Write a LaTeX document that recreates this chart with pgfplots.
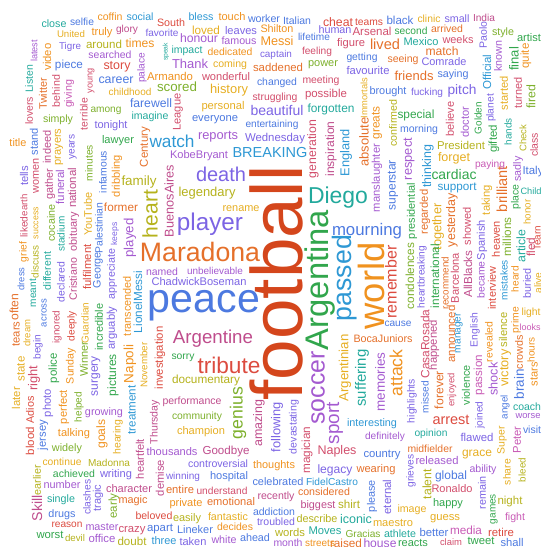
\documentclass[border=0pt]{standalone}
\usepackage{fontspec}
\setmainfont{Liberation Sans}
\usepackage{graphicx}
\usepackage{pgfplots}
\pgfplotsset{compat=1.18}
\usepackage{pgfplotstable}

\definecolor{cRust}{HTML}{D4461C}
\definecolor{cRed}{HTML}{DC4B3F}
\definecolor{cRose}{HTML}{D24E6C}
\definecolor{cMag}{HTML}{BF4C8C}
\definecolor{cPink}{HTML}{C85AB5}
\definecolor{cPurp}{HTML}{A45AD0}
\definecolor{cViol}{HTML}{7C64E4}
\definecolor{cBlue}{HTML}{4C79E0}
\definecolor{cSky}{HTML}{2E98D4}
\definecolor{cTeal}{HTML}{22A99C}
\definecolor{cGreen}{HTML}{31A64C}
\definecolor{cLime}{HTML}{7DB02C}
\definecolor{cOlive}{HTML}{B5B21C}
\definecolor{cGold}{HTML}{E6AE22}
\definecolor{cOrange}{HTML}{F0921F}
\definecolor{cOrRed}{HTML}{E5702A}

% x y = centre in pixels (y down), L = length of the word, r = rotation
\pgfplotstableread{
x y L r c w
276 283 235 90 cRust football
204 306 112 0 cBlue peace
371 286 87 90 cOrange world
320 280 140 90 cGreen Argentina
200 252 120 0 cOrRed Maradona
210 224 66 0 cViol player
318 388 73 90 cPurp soccer
345 278 86 90 cSky passed
338 198 60 0 cTeal Diego
221 174 50 0 cViol death
229 365 63 0 cRed tribute
213 339 80 0 cMag Argentine
150 214 48 90 cOlive heart
172 141 45 0 cSky watch
270 153 75 0 cSky BREAKING
367 231 70 0 cBlue mourning
391 282 73 90 cRed remember
396 373 47 90 cOrange attack
238 413 52 90 cLime genius
335 423 42 90 cPurp sport
54 24 25 0 cTeal close
82 22 24 0 cBlue selfie
110 17 25 0 cOrange coffin
140 17 27 0 cSky social
171 23 28 0 cRed South
71 34 28 0 cGold United
102 33 21 0 cOrange truly
127 30 22 0 cMag glory
162 33 33 0 cViol favorite
70 47 22 0 cViol Tigre
104 44 36 0 cOlive around
140 43 29 0 cOrange times
166 52 18 90 cTeal speak
187 51 31 0 cTeal impact
34 51 22 90 cPurp latest
47 57 27 90 cOrange video
110 55 43 0 cPurp searched
69 65 28 0 cBlue piece
117 67 27 0 cRed story
142 68 30 90 cPurp palace
170 76 46 0 cOrange Armando
29 79 28 90 cTeal Listen
91 81 25 90 cRose young
116 80 35 0 cBlue career
177 87 40 0 cLime scored
43 94 32 90 cOrRed Twitter
56 91 32 90 cRose behind
69 94 28 90 cPink giving
130 92 43 0 cGold childhood
29 111 28 90 cRose lovers
151 103 42 0 cBlue farewell
178 112 37 90 cRose League
84 114 32 90 cRose terrible
106 111 31 0 cLime among
150 117 37 0 cTeal imagine
58 120 30 0 cLime simply
111 126 33 0 cViol tonight
18 143 17 0 cOrange title
34 142 27 90 cBlue stand
47 147 33 90 cMag indeed
59 147 37 90 cGold prayers
118 141 32 0 cGreen lawyer
145 147 40 90 cOrRed Century
199 156 58 0 cPurp KobeBryant
24 176 20 90 cViol tells
36 176 35 90 cRose women
50 184 31 90 cMag gather
60 187 35 90 cPurp funeral
73 147 25 90 cViol years
72 188 40 90 cMag national
89 163 36 90 cLime minutes
103 172 42 90 cBlue infamous
117 176 42 90 cOrange dribbling
139 182 35 0 cOlive family
169 201 72 90 cMag BuenosAires
207 193 57 0 cOlive legendary
121 207 34 0 cOrRed former
24 205 22 90 cRose earth
24 227 21 90 cRose liked
36 223 32 90 cGold success
51 223 37 90 cLime cocaine
61 234 35 90 cTeal stadium
74 232 39 90 cMag obituary
88 214 43 90 cGold YouTube
99 228 51 90 cBlue Palestinian
115 234 23 90 cViol keeps
130 238 39 90 cPurp played
24 252 20 90 cOrange grief
21 279 23 90 cBlue dress
35 262 33 90 cOlive discuss
33 293 28 90 cTeal meant
14 307 27 90 cOrRed often
16 334 25 90 cOrRed tears
27 333 27 90 cGold dream
38 347 25 90 cViol begin
44 313 28 90 cBlue across
47 271 38 90 cTeal different
61 282 40 90 cViol declared
73 279 42 90 cMag Cristiano
87 267 45 90 cRed fulfilment
98 270 36 90 cBlue George
112 274 50 90 cViol appreciate
112 328 43 90 cViol arguably
99 327 47 90 cGreen incredible
85 323 41 90 cGold Guardian
84 359 35 90 cLime Winner
57 327 33 90 cRose ignored
72 326 30 90 cRed deeply
71 366 36 90 cOrange Sunday
54 368 30 90 cGreen police
96 376 40 90 cViol surgery
113 375 42 90 cGreen pictures
127 306 60 90 cOrange transcended
138 302 62 90 cSky LionelMessi
130 364 38 90 cOrange Napoli
144 365 45 90 cGold November
160 358 63 90 cRed investigation
162 272 32 0 cPurp named
215 271 56 0 cPurp unbelievable
199 282 95 0 cViol ChadwickBoseman
241 209 37 0 cGold rename
398 324 27 0 cBlue cause
383 339 59 0 cOrRed BocaJuniors
345 368 67 90 cGold Argentinian
362 378 57 90 cTeal suffering
380 382 59 90 cPurp memories
425 344 69 90 cRose CasaRosada
434 345 50 90 cMag happened
451 334 57 90 cOrRed announced
459 333 40 90 cSky manager
475 330 34 90 cViol English
489 342 40 90 cOrange revealed
503 330 35 90 cOlive silence
516 320 26 90 cOrange prime
531 313 19 0 cGold light
530 327 21 0 cPink looks
531 350 25 90 cOrange hours
519 352 34 90 cOrRed crowds
505 368 37 90 cGold victory
479 375 40 90 cPink passion
493 379 33 90 cPurp shock
519 384 30 90 cBlue brain
534 374 24 90 cOrange stars
412 401 44 90 cViol highlights
425 397 32 90 cBlue missed
439 390 38 90 cOrRed forever
452 390 33 90 cRose enjoyed
466 385 40 90 cGreen violence
480 415 27 90 cViol joined
505 407 24 90 cBlue angel
527 407 28 0 cTeal coach
528 416 25 0 cPurp worse
532 430 18 0 cBlue visit
517 440 27 90 cPink Peter
502 440 28 90 cGold Super
451 420 37 0 cRed arrest
372 424 50 0 cSky interesting
431 434 33 0 cTeal opinion
385 437 40 0 cPurp definitely
477 437 33 0 cViol flawed
382 455 37 0 cBlue country
430 449 45 0 cOrRed midfielder
477 455 30 0 cGold grace
411 471 33 90 cViol grieves
437 460 43 0 cPurp released
376 470 39 0 cOrRed wearing
483 470 27 0 cPurp ability
507 472 26 90 cGold share
522 470 24 90 cOlive bleed
427 484 30 90 cOlive talent
451 476 32 0 cBlue global
372 496 32 90 cBlue please
387 497 35 90 cViol eternal
452 489 41 0 cRose Ronaldo
482 493 33 90 cViol remain
494 509 30 90 cGreen games
510 502 25 0 cOlive night
412 510 29 0 cGold image
448 504 30 0 cGreen happy
445 519 30 0 cGold guess
515 518 20 0 cPink fight
356 519 32 0 cTeal iconic
393 523 40 0 cGold maestro
363 534 35 0 cLime Gracias
400 534 32 0 cTeal athlete
434 532 29 0 cBlue better
466 530 32 0 cPink media
501 532 26 0 cRed retire
346 543 32 0 cOrRed raised
380 543 33 0 cPurp house
413 543 30 0 cGreen reacts
451 542 22 0 cRose claim
481 541 27 0 cGreen tweet
512 542 23 0 cBlue shall
183 358 23 0 cGreen sorry
206 380 68 0 cOlive documentary
192 402 59 0 cMag performance
197 417 50 0 cLime community
201 432 48 0 cGold champion
259 423 47 90 cMag amazing
277 427 50 90 cViol following
294 427 54 90 cViol devastating
307 450 47 90 cRose magician
337 451 39 0 cRose Naples
335 470 35 0 cViol legacy
274 466 42 0 cOrange thoughts
226 451 47 0 cMag Goodbye
172 452 51 0 cPurp thousands
218 464 60 0 cViol controversial
183 477 34 0 cViol winning
229 477 38 0 cBlue hospital
278 482 51 0 cBlue celebrated
332 482 52 0 cSky FidelCastro
180 489 28 0 cOrRed entire
222 491 51 0 cRose understand
324 492 52 0 cOrRed considered
276 497 37 0 cMag recently
186 504 33 0 cOrange private
231 502 48 0 cOrRed emotional
318 506 35 0 cMag biggest
349 504 22 0 cOlive shirt
274 512 42 0 cBlue addiction
187 519 28 0 cOlive easily
228 517 40 0 cGold fantastic
276 522 38 0 cViol troubled
317 519 41 0 cOlive describe
195 530 36 0 cBlue Lineker
235 527 36 0 cOrange decides
290 532 30 0 cOlive words
325 531 33 0 cTeal Moves
193 542 27 0 cViol taken
224 540 25 0 cPurp white
255 538 30 0 cBlue ahead
288 543 29 0 cPurp month
320 543 30 0 cOrange streets
16 398 22 90 cGold later
21 369 25 90 cGold state
34 378 25 90 cRose right
30 410 27 90 cRed Adios
30 441 28 90 cRed blood
48 403 28 90 cViol photo
43 435 30 90 cBlue jersey
64 407 34 90 cOrange perfect
79 407 30 90 cLime helped
104 413 38 0 cPurp growing
132 410 49 90 cSky treatment
155 422 44 90 cMag Thursday
74 434 32 0 cOrange talking
102 434 29 90 cOrange goals
118 437 35 90 cGold hearing
67 449 30 0 cLime widely
140 459 40 90 cMag heartfelt
62 462 39 0 cGold continue
109 463 42 0 cOlive Madonna
160 478 36 90 cMag demise
37 508 26 90 cMag Skill
37 480 30 90 cOlive earlier
74 474 42 0 cGreen achieved
116 475 32 0 cViol writing
62 485 37 0 cPurp number
129 489 46 0 cMag character
87 497 35 90 cViol clashes
98 498 27 90 cViol tragic
114 506 25 90 cLime early
133 501 29 0 cOrRed magic
61 500 28 0 cTeal single
62 515 27 0 cBlue drugs
67 525 31 0 cRed reason
102 527 33 0 cPurp master
154 516 37 0 cRed beloved
132 531 27 0 cRose crazy
160 529 26 0 cBlue apart
50 535 27 0 cGreen worst
75 538 20 0 cOlive devil
102 538 27 0 cPurp office
132 541 29 0 cOlive doubt
164 541 25 0 cSky three
201 17 25 0 cSky bless
232 17 27 0 cOrange touch
264 19 32 0 cBlue worker
297 21 28 0 cBlue Italian
338 22 30 0 cRed cheat
369 22 28 0 cRed teams
206 30 28 0 cGold loved
241 31 32 0 cViol leaves
277 29 33 0 cOrange Shilton
335 30 33 0 cViol human
372 31 39 0 cRose Arsenal
199 38 38 0 cPurp honour
239 41 35 0 cPurp famous
277 41 33 0 cOrange Messi
314 37 32 0 cBlue lifetime
351 44 28 0 cRose figure
230 52 45 0 cOrange dedicated
276 55 32 0 cViol captain
317 52 30 0 cRose feeling
362 58 31 0 cBlue getting
190 64 36 0 cPurp Thank
230 65 34 0 cGold coming
278 67 50 0 cOrRed saddened
323 65 30 0 cLime power
368 70 43 0 cViol favourite
226 77 48 0 cRose wonderful
229 90 38 0 cGold history
277 83 40 0 cBlue changed
321 81 37 0 cRose meeting
275 98 45 0 cRose struggling
326 95 42 0 cRose possible
223 107 43 0 cGold personal
277 110 53 0 cViol beautiful
331 109 47 0 cTeal forgotten
215 120 46 0 cBlue everyone
272 125 53 0 cBlue entertaining
218 137 40 0 cPurp reports
275 139 60 0 cViol Wednesday
313 149 58 90 cRose generation
331 149 55 90 cMag inspiration
346 153 47 90 cSky England
364 142 49 90 cOrRed absolute
364 98 41 90 cGold Immortals
377 123 33 90 cOrange greats
377 178 68 90 cPurp manslaughter
393 123 47 90 cOlive confirmed
393 185 50 90 cBlue superstar
409 159 42 90 cPurp respect
412 211 56 90 cGreen presidential
428 166 43 90 cSky thinking
425 212 45 90 cOrRed regarded
438 227 47 90 cGold together
452 220 54 90 cOrRed yesterday
467 226 38 90 cRose showed
482 240 40 90 cViol Spanish
487 200 30 90 cGold taking
457 188 39 0 cSky support
502 189 46 90 cOrRed brilliant
516 197 25 90 cGreen place
531 191 21 0 cTeal Child
527 212 25 90 cGold honor
537 237 22 90 cRed learn
496 239 36 90 cRed heaven
507 237 39 90 cLime millions
521 246 33 90 cTeal article
531 247 19 90 cRose fled
410 276 66 90 cLime condolences
422 277 62 90 cViol heartbreaking
435 276 64 90 cGreen international
445 283 52 90 cOrRed recommend
455 278 50 90 cRose Barcelona
468 274 47 90 cMag AllBlacks
481 280 37 90 cPurp became
492 288 43 90 cRed interview
504 280 40 90 cSky mistakes
515 279 26 90 cOrange heard
527 283 30 90 cViol buried
538 283 21 90 cGold alive
400 20 27 0 cBlue black
429 19 23 0 cGold clinic
457 19 25 0 cViol small
484 18 22 0 cMag India
411 31 33 0 cGreen second
447 29 32 0 cOrRed arrived
483 35 27 90 cViol Paolo
503 33 22 0 cLime style
529 38 24 0 cGreen artist
385 44 30 0 cOrRed lived
421 42 35 0 cTeal Mexico
458 40 31 0 cRose weeks
442 51 33 0 cOrRed match
498 56 31 90 cPurp known
514 59 24 90 cGreen final
526 56 25 90 cOrange quite
403 60 31 0 cOrRed seeing
444 62 45 0 cViol Comrade
487 72 35 90 cSky Official
414 76 39 0 cOrRed friends
453 75 31 0 cBlue saying
504 93 34 90 cGold started
518 93 31 90 cRose turned
531 97 24 90 cLime fired
388 92 37 0 cBlue brought
427 93 32 0 cViol fucking
462 91 29 0 cViol pitch
491 108 28 90 cViol planet
478 118 32 90 cGreen Golden
450 119 35 90 cRose believe
465 122 31 90 cPurp doctor
416 115 37 0 cGreen special
419 130 38 0 cBlue morning
508 132 27 90 cTeal hands
494 139 28 90 cGreen gifted
523 138 27 90 cOlive Check
534 145 24 90 cRose class
461 145 48 0 cOlive President
454 158 32 0 cGold forget
490 165 30 0 cPink paying
518 169 25 90 cPurp sadly
533 172 21 0 cBlue Italy
454 175 45 0 cGreen cardiac
}\cloud

% one text column colour/rotation/length/word for the labels
\pgfplotstablecreatecol[
  create col/assign/.code={%
    \getthisrow{c}\tc \getthisrow{r}\tr
    \getthisrow{L}\tL \getthisrow{w}\tw
    \edef\entry{\tc/\tr/\tL/\tw}%
    \pgfkeyslet{/pgfplots/table/create col/next content}\entry}
]{m}\cloud

\def\cloudword#1/#2/#3/#4\relax{%
  \rotatebox{#2}{\resizebox{#3bp}{!}{\textcolor{#1}{#4}}}}

\begin{document}
\begin{tikzpicture}
\begin{axis}[
  hide axis,
  scale only axis,
  width=541bp, height=547bp,
  xmin=0, xmax=541, ymin=0, ymax=547,
  y dir=reverse,
  clip=false,
]
\addplot[draw=none, mark=none,
  point meta=explicit symbolic,
  nodes near coords={\edef\tmpw{\pgfplotspointmeta}\expandafter\cloudword\tmpw\relax},
  nodes near coords align={anchor=center},
  every node near coord/.append style={anchor=center, inner sep=0pt,
    font=\fontsize{10bp}{12bp}\selectfont},
] table[x=x, y=y, meta=m] {\cloud};
\end{axis}
\pgfresetboundingbox
\path (current axis.south west) rectangle (current axis.north east);
\end{tikzpicture}
\end{document}
